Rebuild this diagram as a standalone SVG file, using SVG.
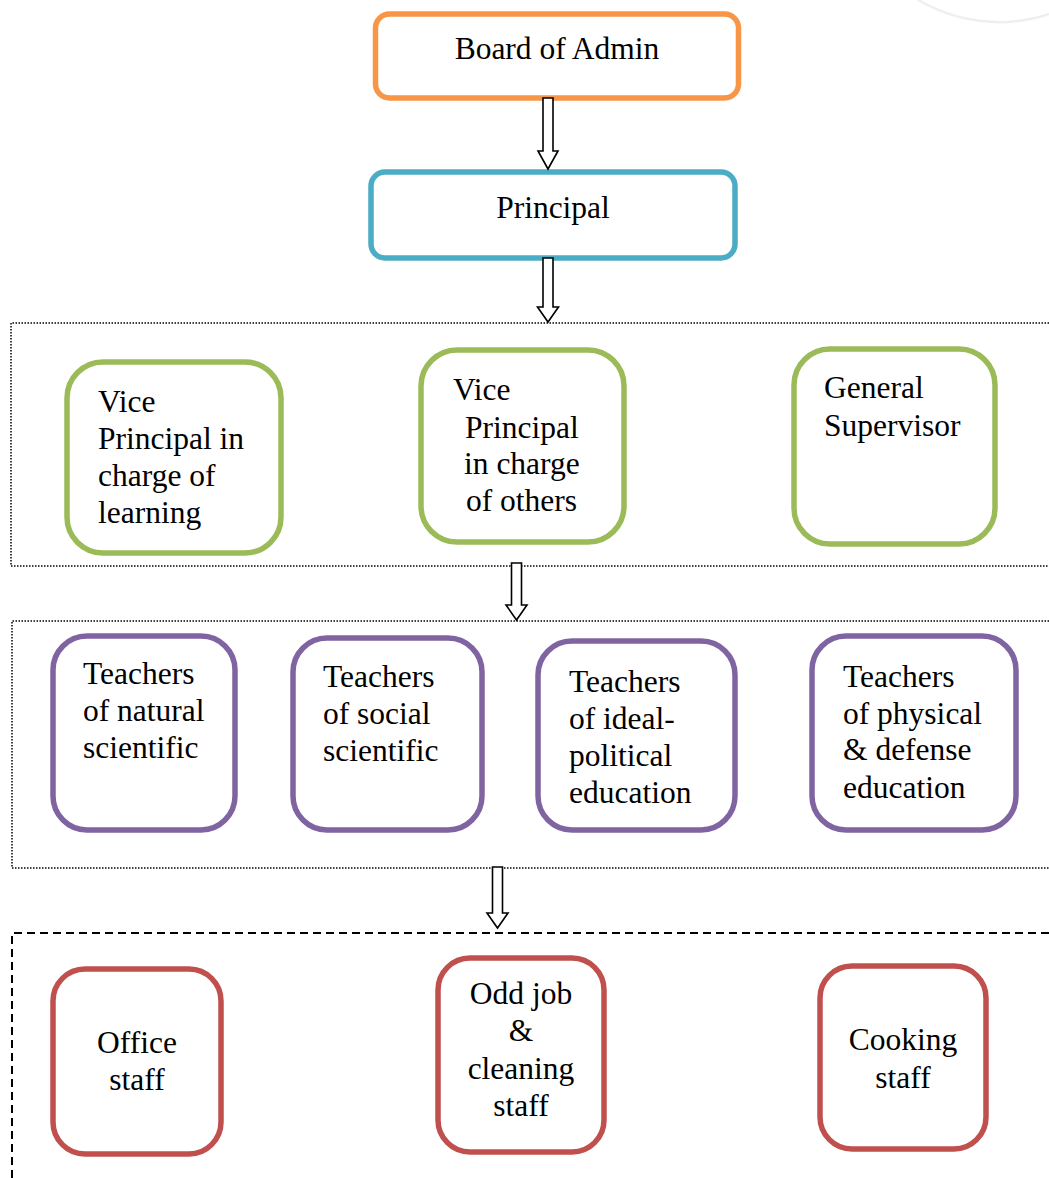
<svg xmlns="http://www.w3.org/2000/svg" width="1049" height="1178" viewBox="0 0 1049 1178">
<style>
  .t { font-family: 'Liberation Serif', 'Noto Serif', 'DejaVu Serif', FreeSerif, 'Nimbus Roman', 'Noto Serif CJK SC', 'Times New Roman', serif; font-size: 31.5px; fill: #000; }
  .c { text-anchor: middle; }
  .box { fill: #fff; stroke-width: 5.5; }
  .orange { stroke: #F79646; }
  .blue { stroke: #4BACC6; }
  .green { stroke: #9BBB59; }
  .purple { stroke: #8064A2; }
  .red { stroke: #C0504D; }
  .dot { fill: none; stroke: #000; stroke-width: 1.5; stroke-dasharray: 1.5 1.5; }
  .dash { fill: none; stroke: #000; stroke-width: 2; stroke-dasharray: 8 5; }
  .arrow { fill: #fff; stroke: #000; stroke-width: 1.6; stroke-linejoin: miter; }
</style>

<path d="M 918 0 Q 960 24 1008 22 Q 1033 20 1049 14" fill="none" stroke="#efefef" stroke-width="2.5"/>

<g id="groups">
  <path class="dot" d="M 1049 323 L 11 323 L 11 566 L 1049 566"/>
  <path class="dot" d="M 1049 621 L 12 621 L 12 868 L 1049 868"/>
  <path class="dash" d="M 1049 933 L 12 933 L 12 1178"/>
</g>

<g id="node-board">
  <rect class="box orange" x="375.5" y="14" width="363" height="84" rx="14"/>
  <text class="t c" x="557" y="59">Board of Admin</text>
</g>

<g id="node-principal">
  <rect class="box blue" x="371" y="172" width="364" height="86" rx="14"/>
  <text class="t c" x="553" y="218">Principal</text>
</g>

<g id="node-vp-learning">
  <rect class="box green" x="67" y="362" width="214" height="191" rx="36"/>
  <text class="t" x="98" y="412">Vice<tspan x="98" y="449">Principal in</tspan><tspan x="98" y="486">charge of</tspan><tspan x="98" y="523">learning</tspan></text>
</g>

<g id="node-vp-others">
  <rect class="box green" x="421" y="350" width="203" height="192" rx="36"/>
  <text class="t" x="453" y="400">Vice<tspan x="465" y="438">Principal</tspan><tspan x="464" y="474">in charge</tspan><tspan x="466" y="511">of others</tspan></text>
</g>

<g id="node-general-supervisor">
  <rect class="box green" x="794" y="349" width="201" height="195" rx="36"/>
  <text class="t" x="824" y="398">General<tspan x="824" y="436">Supervisor</tspan></text>
</g>

<g id="node-teachers-natural">
  <rect class="box purple" x="53" y="636" width="182" height="194" rx="34"/>
  <text class="t" x="83" y="684">Teachers<tspan x="83" y="721">of natural</tspan><tspan x="83" y="758">scientific</tspan></text>
</g>

<g id="node-teachers-social">
  <rect class="box purple" x="293" y="638" width="189" height="192" rx="34"/>
  <text class="t" x="323" y="687">Teachers<tspan x="323" y="724">of social</tspan><tspan x="323" y="761">scientific</tspan></text>
</g>

<g id="node-teachers-ideal">
  <rect class="box purple" x="538" y="641" width="197" height="189" rx="34"/>
  <text class="t" x="569" y="692">Teachers<tspan x="569" y="729">of ideal-</tspan><tspan x="569" y="766">political</tspan><tspan x="569" y="803">education</tspan></text>
</g>

<g id="node-teachers-physical">
  <rect class="box purple" x="812" y="636" width="204" height="194" rx="34"/>
  <text class="t" x="843" y="687">Teachers<tspan x="843" y="724">of physical</tspan><tspan x="843" y="760">&amp; defense</tspan><tspan x="843" y="798">education</tspan></text>
</g>

<g id="node-office">
  <rect class="box red" x="53" y="969" width="168" height="185" rx="32"/>
  <text class="t c" x="137" y="1053">Office<tspan x="137" y="1090">staff</tspan></text>
</g>

<g id="node-oddjob">
  <rect class="box red" x="438" y="958" width="166" height="194" rx="32"/>
  <text class="t c" x="521" y="1004">Odd job<tspan x="521" y="1041">&amp;</tspan><tspan x="521" y="1079">cleaning</tspan><tspan x="521" y="1116">staff</tspan></text>
</g>

<g id="node-cooking">
  <rect class="box red" x="820" y="966" width="166" height="183" rx="32"/>
  <text class="t c" x="903" y="1050">Cooking<tspan x="903" y="1088">staff</tspan></text>
</g>

<g id="connectors">
  <polygon class="arrow" points="543,98 553,98 553,151 558,151 548,169 538,151 543,151"/>
  <polygon class="arrow" points="543,258 553,258 553,307 558.5,307 548,322 537.5,307 543,307"/>
  <polygon class="arrow" points="511.5,563 521.5,563 521.5,605 527,605 516.5,620 506,605 511.5,605"/>
  <polygon class="arrow" points="492.5,867 502.5,867 502.5,913 508,913 497.5,928 487,913 492.5,913"/>
</g>
</svg>
